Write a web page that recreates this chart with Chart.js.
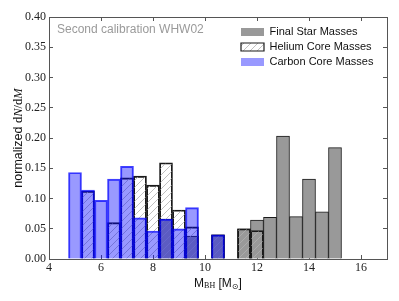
<!DOCTYPE html>
<html>
<head>
<meta charset="utf-8">
<script src="https://cdn.jsdelivr.net/npm/chart.js@4.4.1/dist/chart.umd.min.js"></script>
<style>
  html, body { margin: 0; padding: 0; background: #fff; }
</style>
</head>
<body>
<canvas id="mass-chart" width="399" height="301"></canvas>
<script>
// bin centres (Msun), bins are 0.5 wide
let binCenters = [5, 5.5, 6, 6.5, 7, 7.5, 8, 8.5, 9, 9.5, 10, 10.5, 11, 11.5, 12, 12.5, 13, 13.5, 14, 14.5, 15];

let finalStar = [null, null, null, null, null, null, null, 0.066, null, 0.038, null, 0.040, null, 0.050, 0.0645, 0.069, 0.203, 0.070, 0.132, 0.078, 0.184];
let heliumCore = [null, 0.112, null, 0.060, 0.134, 0.137, 0.122, 0.159, 0.081, 0.053, null, 0.040, null, 0.050, 0.047, null, null, null, null, null, null];
let carbonCore = [0.143, 0.114, 0.097, 0.132, 0.153, 0.068, 0.046, 0.066, 0.050, 0.085, null, 0.040, null, null, null, null, null, null, null, null, null];

let xTicks = [4, 6, 8, 10, 12, 14, 16];
let yTicks = [0, 0.05, 0.1, 0.15, 0.2, 0.25, 0.3, 0.35, 0.4];

let annotation = "Second calibration WHW02";

const sans = '"Liberation Sans", Arial, sans-serif';
const serif = '"Liberation Serif", "DejaVu Serif", serif';
const axisColor = "#555";

const toPoints = (vals) =>
  binCenters.map((x, i) => ({ x: x, y: vals[i] })).filter((p) => p.y !== null);

function makeHatch() {
  const size = 7;
  const c = document.createElement("canvas");
  c.width = size;
  c.height = size;
  const g = c.getContext("2d");
  g.strokeStyle = "#b0b0b0";
  g.lineWidth = 0.8;
  g.beginPath();
  g.moveTo(-1, size + 1);
  g.lineTo(size + 1, -1);
  g.moveTo(-1, 1);
  g.lineTo(1, -1);
  g.moveTo(size - 1, size + 1);
  g.lineTo(size + 1, size - 1);
  g.stroke();
  return g.createPattern(c, "repeat");
}
let hatch = makeHatch();

// ticks pointing into the plot, like matplotlib
function tickGrid() {
  return { display: true, drawOnChartArea: false, drawTicks: true, tickLength: -4, color: axisColor, lineWidth: 1, offset: false };
}
let border = { display: true, color: axisColor, width: 1 };
let tickFont = { family: serif, size: 12 };

const setTicks = (list) => (scale) => {
  scale.ticks = list.map((v) => ({ value: v }));
};

// put the legend in the upper right corner of the plot
const legendInside = {
  id: "legendInside",
  afterLayout(chart) {
    const lg = chart.legend;
    const a = chart.chartArea;
    if (!lg) return;
    lg.left = a.right - 150;
    lg.right = lg.left + lg.width;
    lg.top = a.top + 5.5;
    lg.bottom = a.bottom;
  },
};

function drawRuns(ctx, runs, x, y) {
  let total = 0;
  runs.forEach((r) => {
    ctx.font = r.font;
    r.w = ctx.measureText(r.text).width;
    total += r.w;
  });
  let cx = x - total / 2;
  runs.forEach((r) => {
    ctx.font = r.font;
    ctx.fillText(r.text, cx, y + (r.dy || 0));
    cx += r.w;
  });
}

const textLabels = {
  id: "textLabels",
  afterDraw(chart) {
    const ctx = chart.ctx;
    const a = chart.chartArea;
    ctx.save();
    ctx.textAlign = "left";
    ctx.textBaseline = "alphabetic";

    ctx.fillStyle = "#9a9a9a";
    ctx.font = "12px " + sans;
    ctx.fillText(annotation, a.left + 8, a.top + 16);

    ctx.fillStyle = "#111";
    drawRuns(ctx, [
      { text: "M", font: "12px " + sans },
      { text: "BH", font: "8px " + serif, dy: 1 },
      { text: " [M", font: "12px " + sans },
      { text: "\u2299", font: '8px "DejaVu Sans"', dy: 1.5 },
      { text: "]", font: "12px " + sans },
    ], (a.left + a.right) / 2, a.bottom + 28);

    ctx.translate(21.5, (a.top + a.bottom) / 2);
    ctx.rotate(-Math.PI / 2);
    drawRuns(ctx, [
      { text: "normalized ", font: "12.5px " + sans },
      { text: "d", font: "12.5px " + serif },
      { text: "N", font: "italic 12.5px " + serif },
      { text: "/d", font: "12.5px " + serif },
      { text: "M", font: "italic 12.5px " + serif },
    ], 0, 0);
    ctx.restore();
  },
};

let barShape = { grouped: false, barPercentage: 1, categoryPercentage: 1, borderSkipped: "start" };

let massChartElement = document.getElementById("mass-chart");

new Chart(massChartElement.getContext("2d"), {
  type: "bar",
  data: {
    datasets: [
      {
        label: "Final Star Masses",
        data: toPoints(finalStar),
        backgroundColor: "#999999",
        borderColor: "#1a1a1a",
        borderWidth: 1,
        order: 3,
        ...barShape,
      },
      {
        label: "Helium Core Masses",
        data: toPoints(heliumCore),
        backgroundColor: hatch,
        borderColor: "#1a1a1a",
        borderWidth: 1.2,
        order: 2,
        ...barShape,
      },
      {
        label: "Carbon Core Masses",
        data: toPoints(carbonCore),
        backgroundColor: "rgba(0, 0, 255, 0.4)",
        borderColor: "rgba(0, 0, 255, 0.75)",
        borderWidth: 1.3,
        order: 1,
        ...barShape,
      },
    ],
  },
  options: {
    responsive: false,
    animation: false,
    devicePixelRatio: 1,
    layout: { padding: { left: 0, right: 12, top: 17, bottom: 0 } },
    scales: {
      x: {
        type: "linear",
        position: "bottom",
        min: 4,
        max: 17,
        offset: false,
        afterBuildTicks: setTicks(xTicks),
        afterFit: (s) => { s.height = 42; },
        grid: tickGrid(),
        border: border,
        ticks: { padding: 6, maxRotation: 0, autoSkip: false, color: "#222", font: tickFont, callback: (v) => String(v) },
      },
      x2: {
        type: "linear",
        position: "top",
        min: 4,
        max: 17,
        offset: false,
        afterBuildTicks: setTicks(xTicks),
        afterFit: (s) => { s.height = 0; },
        grid: tickGrid(),
        border: border,
        ticks: { display: false },
      },
      y: {
        type: "linear",
        position: "left",
        min: 0,
        max: 0.4,
        afterBuildTicks: setTicks(yTicks),
        afterFit: (s) => { s.width = 49; },
        grid: tickGrid(),
        border: border,
        ticks: { padding: 7, color: "#222", font: tickFont, callback: (v) => v.toFixed(2) },
      },
      y2: {
        type: "linear",
        position: "right",
        min: 0,
        max: 0.4,
        afterBuildTicks: setTicks(yTicks),
        afterFit: (s) => { s.width = 0; },
        grid: tickGrid(),
        border: border,
        ticks: { display: false },
      },
    },
    plugins: {
      tooltip: { enabled: false },
      legend: {
        position: "chartArea",
        fullSize: false,
        align: "start",
        labels: {
          boxWidth: 23,
          boxHeight: 8,
          padding: 4,
          color: "#111",
          font: { family: sans, size: 11 },
          sort: (a, b) => a.datasetIndex - b.datasetIndex,
          generateLabels: (chart) => {
            const items = Chart.defaults.plugins.legend.labels.generateLabels(chart);
            items.forEach((it) => {
              if (it.datasetIndex === 2) {
                it.strokeStyle = "rgba(0, 0, 255, 0.4)";
                it.lineWidth = 0;
              }
              if (it.datasetIndex === 0) {
                it.lineWidth = 0;
              }
            });
            return items;
          },
        },
      },
    },
  },
  plugins: [legendInside, textLabels],
});
</script>
</body>
</html>
